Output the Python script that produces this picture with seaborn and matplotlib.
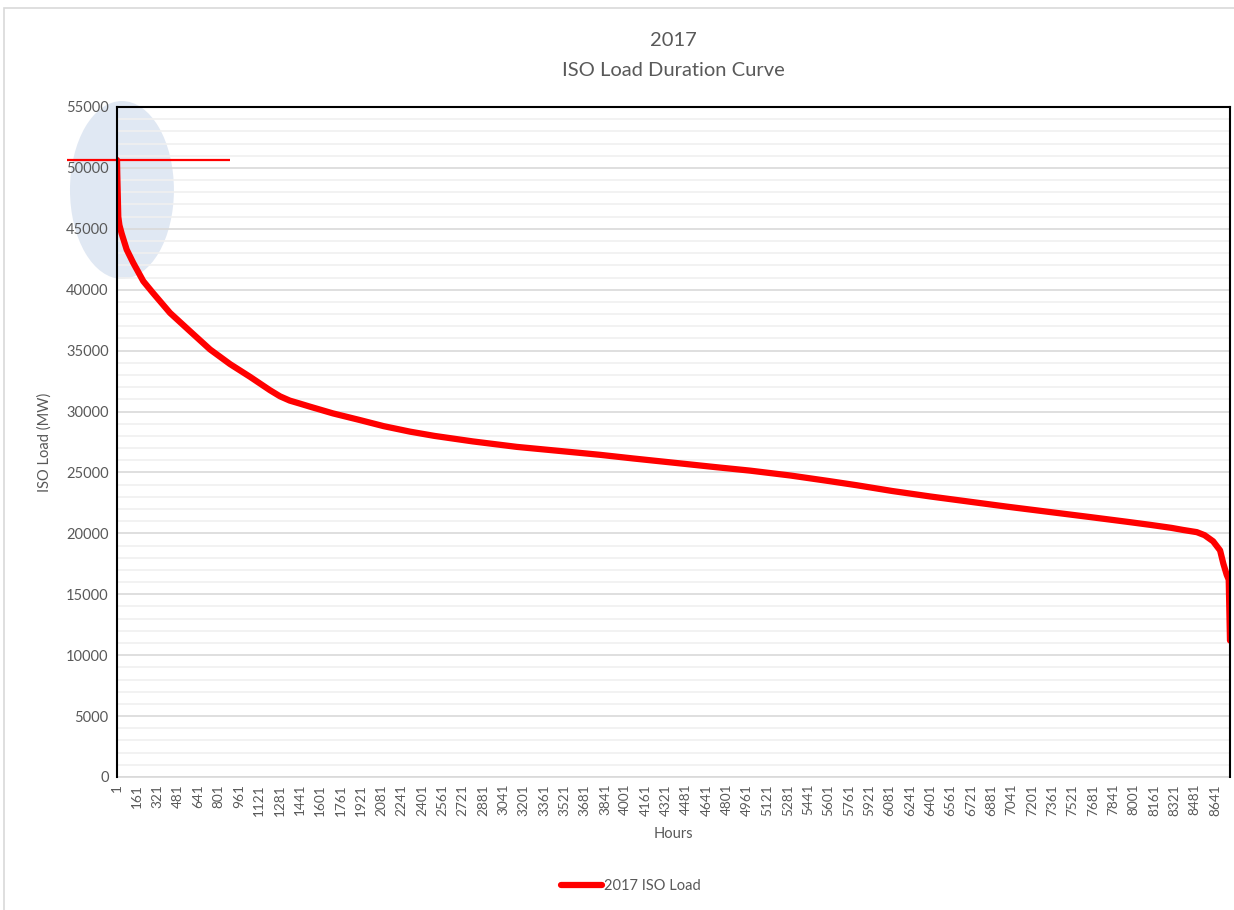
import numpy as np
import pandas as pd
import matplotlib
matplotlib.use("Agg")
import matplotlib.pyplot as plt
from matplotlib.patches import Ellipse, Rectangle
from matplotlib.lines import Line2D
import seaborn as sns

# ---- data ----
hours = [1, 3, 6, 11, 20, 38, 77, 129, 208, 287, 418, 575, 733, 890,
         1048, 1205, 1284, 1360, 1441, 1520, 1700, 1913, 2100, 2307, 2500,
         2800, 3147, 3500, 3800, 4062, 4400, 4700, 4983, 5300, 5600, 5823,
         6100, 6400, 6740, 7000, 7344, 7658, 7950, 8131, 8300, 8391, 8499,
         8560, 8627, 8682, 8708, 8734, 8750, 8760]
load_mw = [50650, 49500, 48200, 46000, 45300, 44600, 43300, 42200, 40700,
           39700, 38100, 36600, 35100, 33900, 32850, 31750, 31250,
           30900, 30650, 30400, 29850, 29300, 28800, 28350, 28000, 27550,
           27100, 26750, 26450, 26150, 25780, 25450, 25150, 24750, 24300,
           23950, 23480, 23030, 22560, 22200, 21750, 21340, 20950, 20700,
           20450, 20280, 20100, 19850, 19350, 18600, 17500, 16600, 16200,
           11200]
x_tick_labels = list(range(1, 8761, 160))
y_ticks = list(range(0, 55001, 5000))
series_name = "2017 ISO Load"
title_lines = ["2017", "ISO Load Duration Curve"]

# annotation extents (peak marker line & highlight ellipse)
peak_line_hours = [-390, 890]
ellipse_center = (40, 48190)
ellipse_size = (818, 14600)

df = pd.DataFrame({"Hours": hours, "Load": load_mw})

sns.set_theme(style="white")
plt.rcParams["font.family"] = ["Lato", "DejaVu Sans"]

fig = plt.figure(figsize=(12.34, 9.10), dpi=100)
ax = fig.add_axes([117 / 1234, 1 - 777 / 910, (1230 - 117) / 1234, (777 - 107) / 910])

# grid
ax.set_yticks(y_ticks)
ax.set_yticks(list(range(0, 55001, 1000)), minor=True)
ax.grid(which="major", axis="y", color="#d9d9d9", lw=1.2)
ax.grid(which="minor", axis="y", color="#f0f0f0", lw=1.2)

# highlight ellipse (below axis artists so labels and gridlines show through)
ell = Ellipse(ellipse_center, ellipse_size[0], ellipse_size[1],
              facecolor=(0.80, 0.85, 0.92), alpha=0.6, edgecolor="none",
              clip_on=False, zorder=0.3)
ax.add_patch(ell)

sns.lineplot(data=df, x="Hours", y="Load", ax=ax, color="#ff0000", lw=4.5,
             legend=False, zorder=3, sort=False)
ax.hlines(max(load_mw), peak_line_hours[0], peak_line_hours[1],
          color="#ff0000", lw=1.6, clip_on=False, zorder=3)

ax.set_xlim(1, 8760)
ax.set_ylim(0, 55000)
ax.set_xticks(x_tick_labels)
ax.set_xticklabels([str(v) for v in x_tick_labels], rotation=90,
                   fontsize=9.8, color="#595959")
ax.set_yticklabels([str(v) for v in y_ticks], fontsize=10.5, color="#595959")
ax.tick_params(axis="both", which="both", length=0, pad=6)
ax.tick_params(axis="x", pad=5)

for side in ["left", "top", "right"]:
    ax.spines[side].set_color("#000000")
    ax.spines[side].set_linewidth(1.5)
    ax.spines[side].set_zorder(4)
ax.spines["bottom"].set_color("#d9d9d9")
ax.spines["bottom"].set_linewidth(1.2)

ax.set_xlabel("Hours", fontsize=10.5, color="#595959", labelpad=8)
ax.set_ylabel("ISO Load (MW)", fontsize=10.5, color="#595959", labelpad=10)

fig.text(673 / 1234, 1 - 40 / 910, title_lines[0], ha="center", va="center",
         fontsize=14.5, color="#595959")
fig.text(673 / 1234, 1 - 71 / 910, title_lines[1], ha="center", va="center",
         fontsize=14.5, color="#595959")

handle = Line2D([0], [0], color="#ff0000", lw=4.5, solid_capstyle="round")
fig.legend([handle], [series_name], loc="center", bbox_to_anchor=(631 / 1234, 1 - 886 / 910),
           frameon=False, fontsize=10.5, labelcolor="#595959",
           handlelength=2.8, handletextpad=0.1)

# outer chart-area border
fig.patches.append(Rectangle((4 / 1234, -0.01), 1.2, 1 - 8 / 910 + 0.01,
                             transform=fig.transFigure, fill=False,
                             edgecolor="#d9d9d9", lw=1.2))

fig.savefig("out.png", dpi=100, facecolor="white")
